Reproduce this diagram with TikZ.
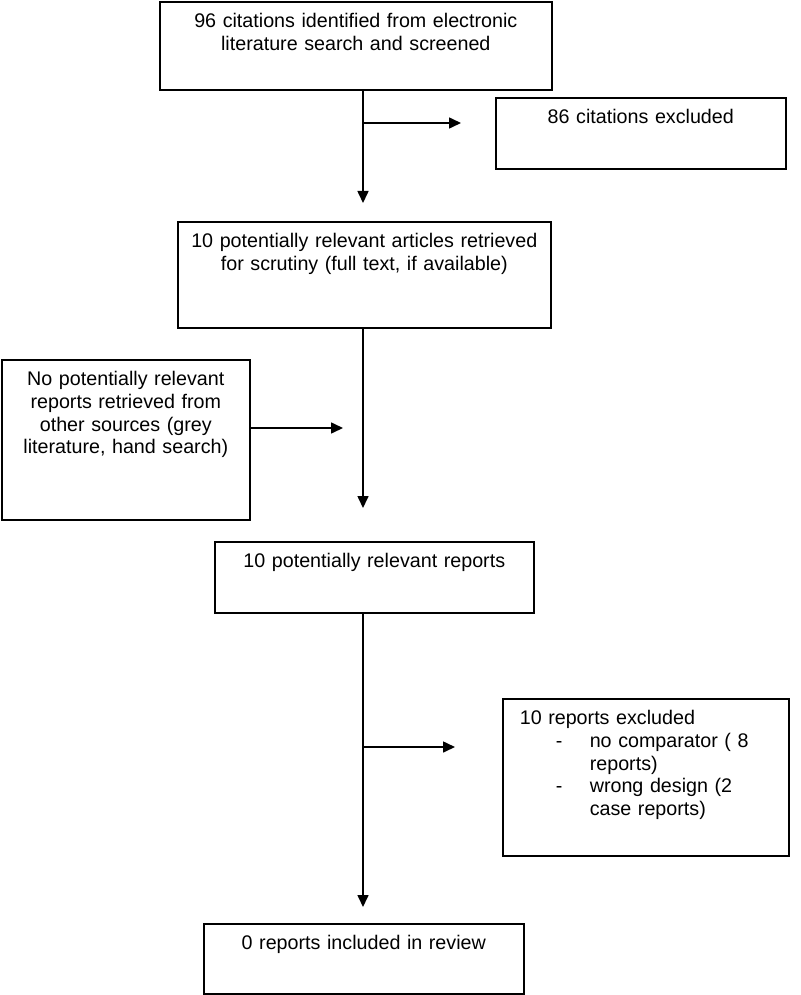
\documentclass[tikz,border=0pt]{standalone}
\usepackage{fontspec}
\setmainfont{Liberation Sans}
\usetikzlibrary{arrows.meta}

\begin{document}
\begin{tikzpicture}[
    x=1pt, y=-1pt,
    >={Triangle[length=12pt,width=11pt]},
    every node/.style={font=\fontsize{19.7}{22.7}\selectfont},
    % 流程方框
    box/.style={
        draw, line width=1.6pt, anchor=north west, align=center,
        inner sep=0pt, text height=26pt
    },
    % 箭头
    arr/.style={->, line width=1.6pt},
]

\useasboundingbox (0,0) rectangle (800,995);

%% ── 方框 ─────────────────────────────────────────────
\node[box, text width=392pt, text depth=62pt] (b1) at (159,1)
    {96 citations identified from electronic\\literature search and screened};
\node[box, text width=290pt, text depth=45pt] (b2) at (495,97)
    {86 citations excluded};
\node[box, text width=373pt, text depth=80pt] (b3) at (177,221)
    {10 potentially relevant articles retrieved\\for scrutiny (full text, if available)};
\node[box, text width=248pt, text depth=134pt] (b4) at (1,359)
    {No potentially relevant\\reports retrieved from\\other sources (grey\\literature, hand search)};
\node[box, text width=319pt, text depth=45pt] (b5) at (214,541)
    {10 potentially relevant reports};
\node[box, align=left, inner xsep=17pt, text width=252pt, text depth=131pt] (b6) at (502,698)
    {10 reports excluded\\
     \hspace*{36pt}\makebox[34pt][l]{-}no comparator ( 8\\
     \hspace*{70pt}reports)\\
     \hspace*{36pt}\makebox[34pt][l]{-}wrong design (2\\
     \hspace*{70pt}case reports)};
\node[box, text width=320pt, text depth=44pt] (b7) at (203,923)
    {0 reports included in review};

%% ── 箭头端点（主干 x=363） ─────────────────────────────
\def\mx{363}
\coordinate (t1) at (\mx,203);
\coordinate (t2) at (\mx,508);
\coordinate (t3) at (\mx,907);
\coordinate (s1) at (\mx,123);
\coordinate (e1) at (461,123);
\coordinate (e2) at (343,428);
\coordinate (s3) at (\mx,747);
\coordinate (e3) at (455,747);

%% ── 连线 ─────────────────────────────────────────────
\draw[arr] (b1.south -| t1) -- (t1);
\draw[arr] (s1) -- (e1);
\draw[arr] (b3.south -| t2) -- (t2);
\draw[arr] (b4.east |- e2) -- (e2);
\draw[arr] (b5.south -| t3) -- (t3);
\draw[arr] (s3) -- (e3);

\end{tikzpicture}
\end{document}
